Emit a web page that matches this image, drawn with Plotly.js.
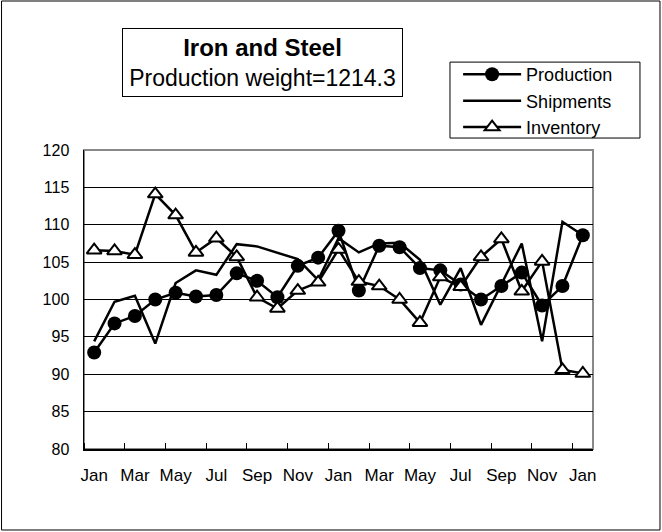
<!DOCTYPE html>
<html>
<head>
<meta charset="utf-8">
<script src="https://cdn.plot.ly/plotly-3.0.1.min.js"></script>
<style>html,body{margin:0;padding:0;background:#fff}#chart{width:662px;height:532px}</style>
</head>
<body>
<div id="chart"></div>
<script>
const months = ["Jan","Feb","Mar","Apr","May","Jun","Jul","Aug","Sep","Oct","Nov","Dec",
                "Jan","Feb","Mar","Apr","May","Jun","Jul","Aug","Sep","Oct","Nov","Dec","Jan"];
const production = [92.9,96.8,97.8,100.0,100.9,100.4,100.6,103.5,102.5,100.3,104.5,105.6,
                    109.2,101.2,107.2,107.0,104.2,103.9,102.0,100.0,101.8,103.6,99.2,101.8,108.6];
const shipments  = [94.4,99.7,100.5,94.1,102.2,103.9,103.3,107.4,107.1,106.2,105.4,102.6,
                    108.2,106.3,107.5,107.6,105.3,99.3,104.2,96.6,102.0,107.5,94.4,110.4,108.6];
const inventory  = [106.6,106.5,106.0,114.1,111.3,106.3,108.2,105.7,100.3,98.8,101.2,102.3,
                    106.7,102.4,101.8,100.0,96.9,103.0,101.7,105.7,108.1,101.1,105.1,90.6,90.1];
const yTicks = [80,85,90,95,100,105,110,115,120];

const idx = months.map((m,i)=>i);
const labelIdx = idx.filter(i => i % 2 === 0);
const labelText = labelIdx.map(i => months[i]);

const fam = "Liberation Sans, Arial, sans-serif";
const font = {family: fam, size: 16, color: "#000"};

const traces = [
  {x: idx, y: production, name: "Production", type: "scatter", mode: "lines+markers",
   line: {color: "#000", width: 2.5}, marker: {symbol: "circle", size: 14, color: "#000"}},
  {x: idx, y: shipments, name: "Shipments", type: "scatter", mode: "lines",
   line: {color: "#000", width: 2.5}},
  {x: idx, y: inventory, name: "Inventory", type: "scatter", mode: "lines+markers",
   line: {color: "#000", width: 2.5},
   marker: {symbol: "triangle-up", size: 13, color: "#fff", line: {color: "#000", width: 2}}}
];

const layout = {
  width: 662, height: 532,
  margin: {l: 84, r: 69, t: 150, b: 83},
  paper_bgcolor: "#fff", plot_bgcolor: "#fff",
  font: font,
  showlegend: true,
  legend: {x: 0.735, y: 1.314, xanchor: "left", yanchor: "top", bgcolor: "rgba(0,0,0,0)",
           borderwidth: 0, font: {family: fam, size: 18, color: "#000"}, tracegroupgap: 0,
           itemwidth: 58},
  xaxis: {range: [-0.5, 24.5], tickmode: "array", tickvals: labelIdx, ticktext: labelText,
          ticks: "", showgrid: false, zeroline: false, showline: true, linecolor: "#000",
          linewidth: 1.5, tickfont: {family: fam, size: 17, color: "#000"}, ticklabelstandoff: 10,
          minor: {tickmode: "linear", tick0: 1.5, dtick: 2, ticks: "inside", ticklen: 6,
                  tickcolor: "#000", tickwidth: 1, showgrid: false}},
  yaxis: {range: [80, 120], tickmode: "array", tickvals: yTicks, ticks: "inside", ticklen: 5,
          tickcolor: "#000", showgrid: true, gridcolor: "#000", gridwidth: 1, zeroline: false,
          showline: true, linecolor: "#000", linewidth: 1.5, tickfont: font, ticklabelstandoff: 10},
  shapes: [
    {type: "rect", xref: "paper", yref: "paper", x0: 0, x1: 1, y0: 0, y1: 1,
     line: {color: "#888", width: 2}, layer: "below"},
    {type: "rect", xref: "paper", yref: "paper", x0: 0.719, x1: 1.0923, y0: 1.040, y1: 1.294,
     line: {color: "#000", width: 1}, fillcolor: "rgba(0,0,0,0)"},
    {type: "rect", xref: "paper", yref: "paper", x0: -0.162, x1: 1.1316, y0: -0.2709, y1: 1.4983,
     line: {color: "#000", width: 1}, fillcolor: "rgba(0,0,0,0)"}
  ],
  annotations: [
    {xref: "paper", yref: "paper", x: 0.3507, y: 1.2926, xanchor: "center", yanchor: "middle",
     showarrow: false, align: "center",
     text: "<span style='font-size:24px'><b>Iron and Steel</b></span><br><span style='font-size:23px'>Production weight=1214.3</span>",
     font: {family: fam, size: 23, color: "#000"},
     width: 279, height: 67, bordercolor: "#000", borderwidth: 1, borderpad: 0, bgcolor: "#fff"}
  ]
};

Plotly.newPlot("chart", traces, layout, {displayModeBar: false, staticPlot: true});
</script>
</body>
</html>
